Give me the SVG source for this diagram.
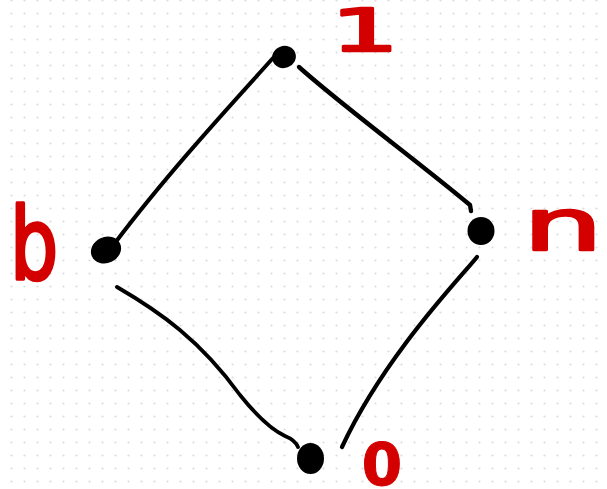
<svg xmlns="http://www.w3.org/2000/svg" width="607" height="489" viewBox="0 0 607 489">
  <defs>
    <pattern id="grid" x="5" y="-6" width="13" height="13" patternUnits="userSpaceOnUse">
      <circle cx="6.5" cy="6.5" r="1.1" fill="#dcdcdc"/>
    </pattern>
    <style>
      .edge { fill: none; stroke: #000; stroke-linecap: round; stroke-linejoin: round; }
      .dot { fill: #000; }
      .lbl { fill: #d40000; stroke: #d40000; stroke-linejoin: round; font-family: "DejaVu Sans", sans-serif; text-anchor: middle; }
    </style>
  </defs>
  <rect width="607" height="489" fill="#ffffff"/>
  <rect width="607" height="489" fill="url(#grid)"/>

  <g id="connectors">
    <path class="edge" stroke-width="4" d="M 273 58 C 240 95, 170 170, 115 243"/>
    <path class="edge" stroke-width="4.4" d="M 299 67 C 340 104, 420 163, 470 205 L 471 211"/>
    <path class="edge" stroke-width="3.8" d="M 117 287 C 160 312, 200 340, 240 395 C 252 410, 268 428, 285 436 Q 295 440, 298 447"/>
    <path class="edge" stroke-width="4.2" d="M 477 257 C 462 276, 385 355, 342 447"/>
  </g>

  <g id="node-1">
    <ellipse class="dot" cx="284" cy="57" rx="12" ry="11" transform="rotate(-20 284 57)"/>
    <text class="lbl" font-size="58" stroke-width="2.5" transform="translate(365,51) scale(1.85,1)">1</text>
  </g>

  <g id="node-b">
    <ellipse class="dot" cx="106" cy="250" rx="15.5" ry="13" transform="rotate(-25 106 250)"/>
    <text class="lbl" font-size="100" stroke-width="3.5" transform="translate(34,279) scale(0.76,1)">b</text>
  </g>

  <g id="node-n">
    <ellipse class="dot" cx="481" cy="231" rx="13.5" ry="14"/>
    <text class="lbl" font-size="72" stroke-width="2.5" transform="translate(563,250) scale(1.75,1)">n</text>
  </g>

  <g id="node-0">
    <ellipse class="dot" cx="310.5" cy="458.5" rx="13.5" ry="15.5"/>
    <text class="lbl" font-size="58" font-weight="bold" stroke-width="1" transform="translate(382,485) scale(1.0,1)">0</text>
  </g>
</svg>
